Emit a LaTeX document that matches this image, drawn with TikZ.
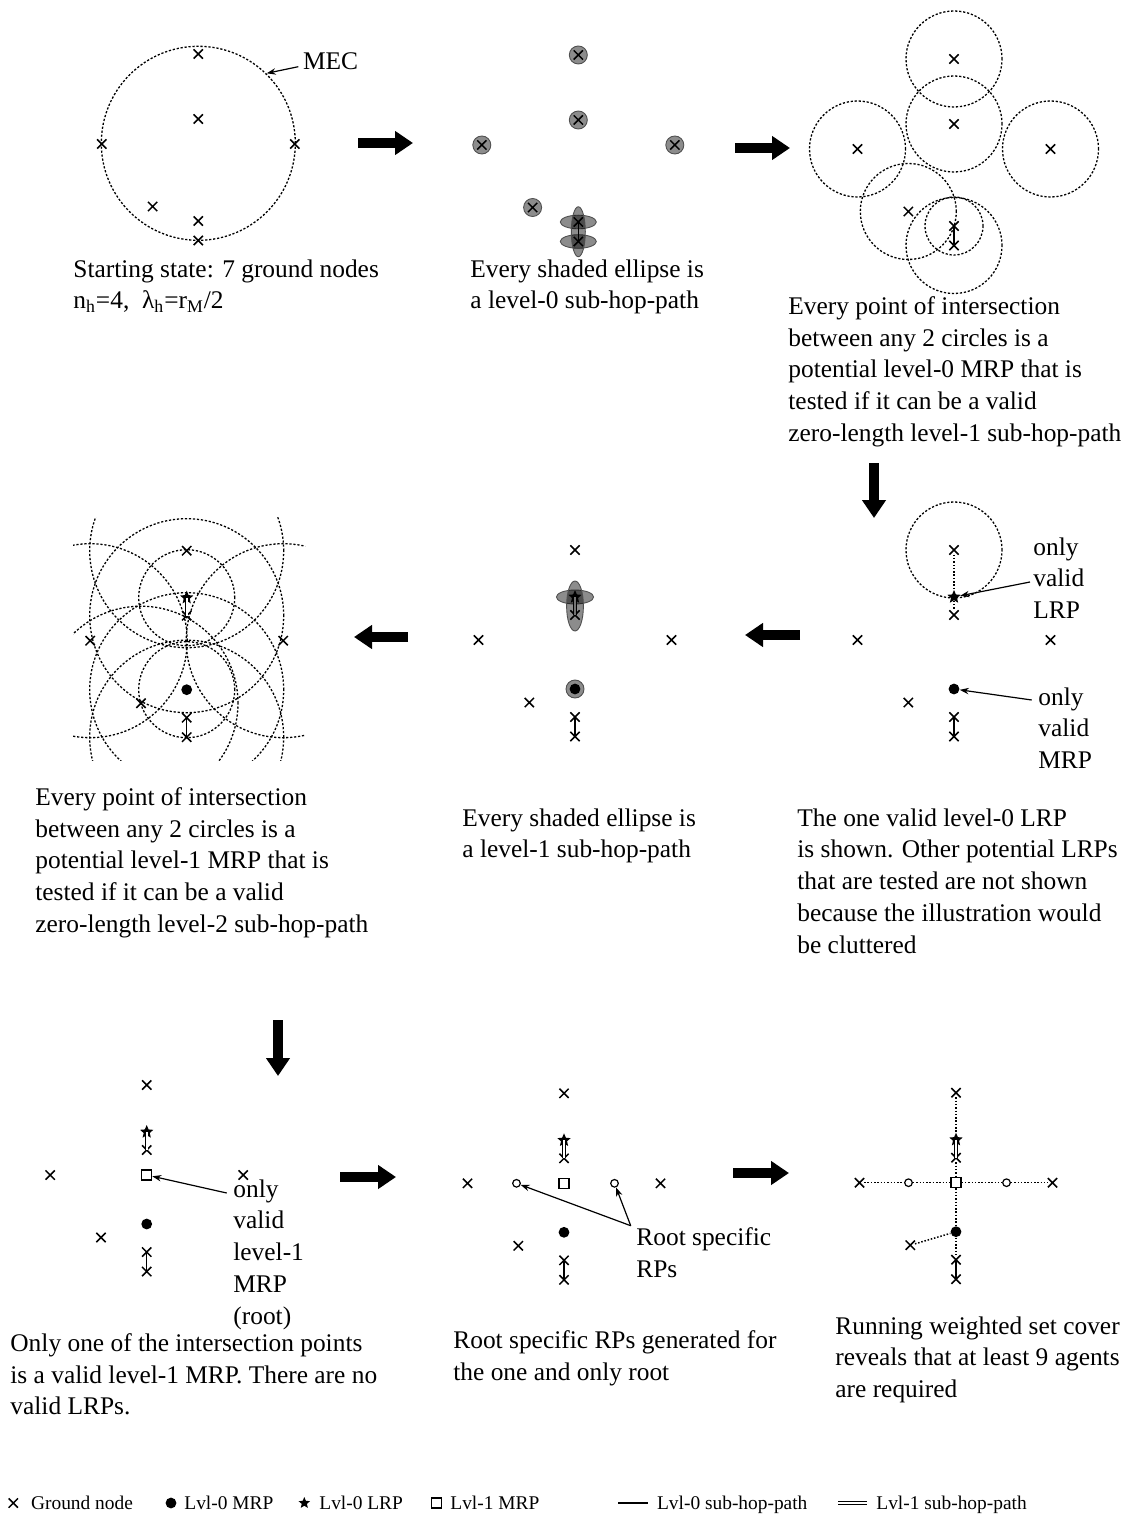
\documentclass[tikz,border=0pt]{standalone}
\usepackage{fontspec}
\setmainfont{Liberation Serif}
\usetikzlibrary{arrows.meta,calc,shapes.geometric,shapes.misc}
\pgfdeclarelayer{back}
\pgfsetlayers{back,main}

\definecolor{rimgray}{HTML}{505050}

\tikzset{
  gnd/.style={cross out,draw,line width=0.75pt,inner sep=0pt,minimum size=3.9pt},
  mrp/.style={circle,fill,inner sep=0pt,minimum size=5.4pt},
  lrp/.style={star,star points=5,star point ratio=2.2,fill,inner sep=0pt,minimum size=7pt},
  root/.style={rectangle,draw,line width=0.6pt,inner sep=0pt,minimum size=5pt},
  rpt/.style={circle,draw,line width=0.6pt,inner sep=0pt,minimum size=3.8pt},
  reach/.style={line width=0.65pt,dash pattern=on 1.1pt off 0.9pt},
  hop0/.style={line width=0.65pt},
  hop1/.style={double,line width=0.45pt,double distance=0.8pt},
  link/.style={line width=0.75pt,dash pattern=on 0.75pt off 0.9pt},
  hopzone/.style={fill=black,fill opacity=0.45,draw=rimgray,line width=0.45pt},
  bigarrow/.style={line width=5pt,-{Triangle[width=11.5pt,length=9pt]}},
  pointer/.style={line width=0.6pt,-{Stealth[length=4.5pt,width=3.2pt]}},
  caption/.style={anchor=north west,align=left,inner sep=0pt,font=\fontsize{12.7}{15.9}\selectfont},
  legend/.style={anchor=base west,inner sep=0pt,font=\fontsize{9.7}{11}\selectfont}
}

\begin{document}
\begin{tikzpicture}[x=0.5pt,y=-0.5pt]
\useasboundingbox (0,0) rectangle (1129,1519);

% ground nodes, same layout in all nine panels
\foreach \p/\px/\py in {1/198.3/54,2/578.3/55,3/954/59,4/954/550,5/575/550,6/186.7/550.7,7/146.7/1085,8/564/1093.3,9/956/1092.7}{
  \foreach \n/\dx/\dy in {a/0/0,b/0/65,c/-96.5/90,d/96.5/90,e/-45.7/152.5,f/0/167,g/0/186.5}
    \node[gnd] (p\p\n) at ({\px+(\dx)},{\py+(\dy)}) {};
}

% panel 1: minimum enclosing circle
\coordinate (mec) at (198.3,143.3);
\draw[reach] (mec) circle[radius=48.5pt];
\node[anchor=west,inner sep=0pt,font=\fontsize{12.7}{15.9}\selectfont] (meclbl) at (302.7,61.7) {MEC};
\coordinate (mecfoot) at (298.3,66.7);
\coordinate (mectip) at (266.7,73.3);
\draw[pointer] (mecfoot) -- (mectip);
\node[caption] (cap1) at (73,259) {Starting state: 7 ground nodes\\
n\textsubscript{h}=4,\ \ λ\textsubscript{h}=r\textsubscript{M}/2};

% panel 2: level-0 sub-hop-paths
\begin{pgfonlayer}{back}
\foreach \n in {a,b,c,d,e}
  \draw[hopzone] (p2\n.center) circle[radius=4.5pt];
\draw[hopzone] (p2f.center) ellipse[x radius=9pt,y radius=3.4pt];
\draw[hopzone] (p2g.center) ellipse[x radius=9pt,y radius=3.4pt];
\draw[hopzone] ($(p2f.center)!0.5!(p2g.center)$) ellipse[x radius=3.5pt,y radius=12.5pt];
\end{pgfonlayer}
\draw[hop0] (p2f.center) -- (p2g.center);
\node[caption] (cap2) at (470,259) {Every shaded ellipse is\\a level-0 sub-hop-path};

% panel 3: level-0 ranges
\foreach \n in {a,b,c,d,e,g}
  \draw[reach] (p3\n.center) circle[radius=24pt];
\draw[reach] (p3f.center) circle[radius=14.5pt];
\draw[hop0] (p3f.center) -- (p3g.center);
\node[caption] (cap3) at (788,296) {Every point of intersection\\between any 2 circles is a\\potential level-0 MRP that is\\tested if it can be a valid\\zero-length level-1 sub-hop-path};

% panel 4
\node[lrp] (p4s) at (954,597) {};
\node[mrp] (p4m) at (954,689) {};
\draw[reach] (p4a.center) circle[radius=24pt];
\draw[link] (p4a) -- (p4s) -- (p4b);
\draw[hop0] (p4f.center) -- (p4g.center);
\node[caption] (lrplbl) at (1033,537) {only\\valid\\LRP};
\node[caption] (mrplbl) at (1038,687) {only\\valid\\MRP};
\coordinate (lrpfoot) at (1030,582);
\coordinate (mrpfoot) at (1031.7,700);
\draw[pointer] (lrpfoot) -- (p4s);
\draw[pointer] (mrpfoot) -- (p4m);
\node[caption] (cap4) at (797,808) {The one valid level-0 LRP\\is shown. Other potential LRPs\\that are tested are not shown\\because the illustration would\\be cluttered};

% panel 5: level-1 sub-hop-paths
\node[lrp] (p5s) at (575,597) {};
\node[mrp] (p5m) at (575,689) {};
\begin{pgfonlayer}{back}
\draw[hopzone] (p5s.center) ellipse[x radius=9.3pt,y radius=3.5pt];
\draw[hopzone] ($(p5s.center)!0.5!(p5b.center)$) ellipse[x radius=4.2pt,y radius=12.5pt];
\draw[hopzone] (p5m.center) circle[radius=4.5pt];
\end{pgfonlayer}
\draw[hop1,double=black!55] (p5s.center) -- (p5b.center);
\draw[hop0] (p5f.center) -- (p5g.center);
\node[caption] (cap5) at (462,808) {Every shaded ellipse is\\a level-1 sub-hop-path};

% panel 6: level-1 ranges
\node[lrp] (p6s) at (186.7,597.7) {};
\node[mrp] (p6m) at (186.7,689.7) {};
\begin{scope}
\clip (73,517) rectangle (305,760);
\foreach \n in {a,b,c,d,e,g,m}
  \draw[reach] (p6\n.center) circle[radius=48.5pt];
\draw[reach] (p6s.center) circle[radius=24pt];
\draw[reach] (p6m.center) circle[radius=24pt];
\end{scope}
\draw[hop1] (p6s.center) -- (p6b.center);
\draw[hop0] (p6f.center) -- (p6g.center);
\node[caption] (cap6) at (35,787) {Every point of intersection\\between any 2 circles is a\\potential level-1 MRP that is\\tested if it can be a valid\\zero-length level-2 sub-hop-path};

% panel 7
\node[lrp] (p7s) at (146.7,1132) {};
\node[mrp] (p7m) at (146.7,1224) {};
\node[root] (p7r) at (146.7,1175) {};
\draw[hop1] (p7s.center) -- (p7b.center);
\draw[hop0] (p7f.center) -- (p7g.center);
\node[caption] (rootlbl) at (233,1179) {only\\valid\\level-1\\MRP\\(root)};
\coordinate (rootfoot) at (226.7,1193);
\draw[pointer] (rootfoot) -- (p7r);
\node[caption] (cap7) at (10,1333) {Only one of the intersection points\\is a valid level-1 MRP. There are no\\valid LRPs.};

% panel 8
\node[lrp] (p8s) at (564,1140.3) {};
\node[mrp] (p8m) at (564,1232.3) {};
\node[root] (p8r) at (564,1183.3) {};
\node[rpt] (p8l) at (516.5,1183.3) {};
\node[rpt] (p8q) at (614.5,1183.3) {};
\draw[hop1] (p8s.center) -- (p8b.center);
\draw[hop0] (p8f.center) -- (p8g.center);
\node[caption] (rplbl) at (636,1227) {Root specific\\RPs};
\coordinate (rpfoot) at (630.7,1225.7);
\draw[pointer] (rpfoot) -- (p8l);
\draw[pointer] (rpfoot) -- (p8q);
\node[caption] (cap8) at (453,1330) {Root specific RPs generated for\\the one and only root};

% panel 9: set cover result
\node[lrp] (p9s) at (956,1139.7) {};
\node[mrp] (p9m) at (956,1231.7) {};
\node[root] (p9r) at (956,1182.7) {};
\node[rpt] (p9l) at (908.5,1182.7) {};
\node[rpt] (p9q) at (1006.5,1182.7) {};
\draw[link] (p9a) -- (p9s);
\draw[link] (p9b) -- (p9r) -- (p9m) -- (p9f);
\draw[link] (p9c) -- (p9l) -- (p9r) -- (p9q) -- (p9d);
\draw[link] (p9e) -- (p9m);
\draw[hop1] (p9s.center) -- (p9b.center);
\draw[hop0] (p9f.center) -- (p9g.center);
\node[caption] (cap9) at (835,1316) {Running weighted set cover\\reveals that at least 9 agents\\are required};

% step arrows between panels
\coordinate (s1) at (358,143);  \coordinate (t1) at (413,143);
\coordinate (s2) at (735,148);  \coordinate (t2) at (790,148);
\coordinate (s3) at (874,463);  \coordinate (t3) at (874,518);
\coordinate (s4) at (800,635);  \coordinate (t4) at (745,635);
\coordinate (s5) at (408,637);  \coordinate (t5) at (354,637);
\coordinate (s6) at (278,1020); \coordinate (t6) at (278,1076);
\coordinate (s7) at (340,1177); \coordinate (t7) at (396,1177);
\coordinate (s8) at (733,1173); \coordinate (t8) at (789,1173);
\foreach \i in {1,...,8}
  \draw[bigarrow] (s\i) -- (t\i);

% legend
\node[gnd] (lg1) at (13.3,1503) {};
\node[legend] (lt1) at (30.7,1509.5) {Ground node};
\node[mrp] (lg2) at (171,1503) {};
\node[legend] (lt2) at (184,1509.5) {Lvl-0 MRP};
\node[lrp,minimum size=6pt] (lg3) at (304.3,1503) {};
\node[legend] (lt3) at (319,1509.5) {Lvl-0 LRP};
\node[root] (lg4) at (436.7,1503) {};
\node[legend] (lt4) at (450,1509.5) {Lvl-1 MRP};
\coordinate (lg5a) at (618.3,1503); \coordinate (lg5b) at (648.3,1503);
\draw[hop0] (lg5a) -- (lg5b);
\node[legend] (lt5) at (656.7,1509.5) {Lvl-0 sub-hop-path};
\coordinate (lg6a) at (838.3,1503); \coordinate (lg6b) at (866.7,1503);
\draw[hop1] (lg6a) -- (lg6b);
\node[legend] (lt6) at (876,1509.5) {Lvl-1 sub-hop-path};
\end{tikzpicture}
\end{document}
